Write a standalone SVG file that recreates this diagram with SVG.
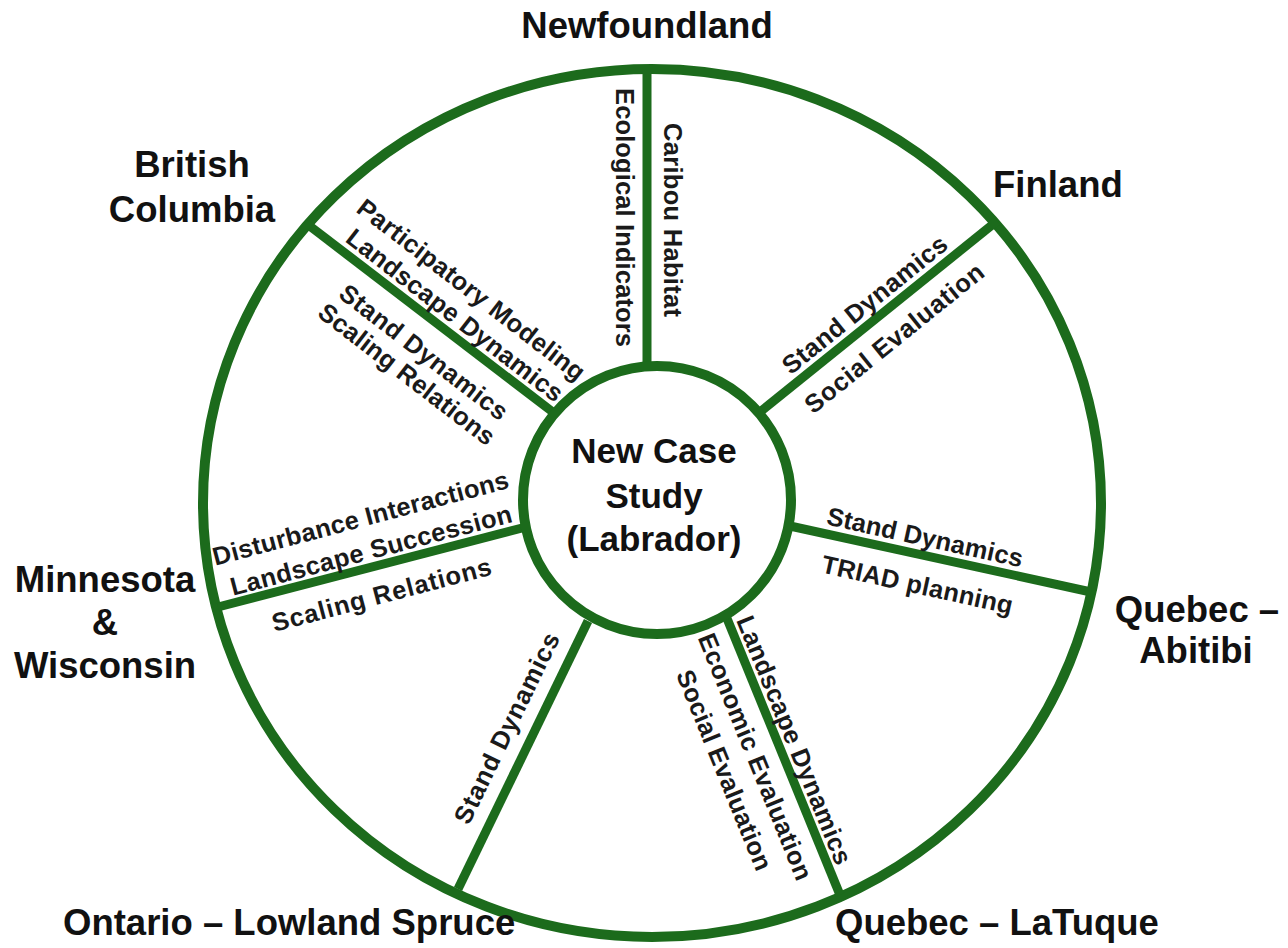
<svg xmlns="http://www.w3.org/2000/svg" width="1288" height="948" viewBox="0 0 1288 948">
<style>
.ring{fill:none;stroke:#1c6b1c;stroke-width:10}
.spoke{stroke:#1c6b1c;stroke-width:9;stroke-linecap:butt}
.region{font-family:"Liberation Sans",Arial,sans-serif;font-weight:bold;font-size:36.5px;fill:#111}
.center{font-family:"Liberation Sans",Arial,sans-serif;font-weight:bold;font-size:35px;fill:#111;text-anchor:middle}
.lbl{font-family:"Liberation Sans",Arial,sans-serif;font-weight:bold;font-size:25.5px;fill:#1a1a1a;text-anchor:middle;dominant-baseline:central}
</style>
<rect width="1288" height="948" fill="#fff"/>
<g id="outer-ring">
<ellipse class="ring" cx="652" cy="503" rx="449" ry="434"/>
</g>
<g id="connectors">
<line class="spoke" x1="647" y1="70" x2="647" y2="367"/>
<line class="spoke" x1="760" y1="412" x2="997" y2="221"/>
<line class="spoke" x1="790" y1="526" x2="1091" y2="592"/>
<line class="spoke" x1="726" y1="616" x2="840" y2="895"/>
<line class="spoke" x1="588" y1="621" x2="458" y2="889"/>
<line class="spoke" x1="526" y1="527" x2="218" y2="607"/>
<line class="spoke" x1="311" y1="227" x2="554" y2="413"/>
<g id="spoke-labels">
<text class="lbl" transform="translate(625,217.5) rotate(90)" textLength="259" lengthAdjust="spacing">Ecological Indicators</text>
<text class="lbl" transform="translate(672.5,220) rotate(90)" textLength="194" lengthAdjust="spacing">Caribou Habitat</text>
<text class="lbl" transform="translate(471.5,289.5) rotate(37.6)" textLength="280" lengthAdjust="spacing">Participatory Modeling</text>
<text class="lbl" transform="translate(455,315) rotate(37.6)" textLength="266" lengthAdjust="spacing">Landscape Dynamics</text>
<text class="lbl" transform="translate(424,352) rotate(37.6)" textLength="205" lengthAdjust="spacing">Stand Dynamics</text>
<text class="lbl" transform="translate(407,374) rotate(37.6)" textLength="215" lengthAdjust="spacing">Scaling Relations</text>
<text class="lbl" transform="translate(864.5,304.5) rotate(-38.9)" textLength="204" lengthAdjust="spacing">Stand Dynamics</text>
<text class="lbl" transform="translate(894,338) rotate(-38.9)" textLength="222" lengthAdjust="spacing">Social Evaluation</text>
<text class="lbl" transform="translate(925,537) rotate(12.4)" textLength="200" lengthAdjust="spacing">Stand Dynamics</text>
<text class="lbl" transform="translate(917.5,584.5) rotate(12.4)" textLength="195" lengthAdjust="spacing">TRIAD planning</text>
<text class="lbl" transform="translate(360.5,518) rotate(-14.8)" textLength="305" lengthAdjust="spacing">Disturbance Interactions</text>
<text class="lbl" transform="translate(371,550) rotate(-14.8)" textLength="290" lengthAdjust="spacing">Landscape Succession</text>
<text class="lbl" transform="translate(381.5,594.5) rotate(-14.8)" textLength="226" lengthAdjust="spacing">Scaling Relations</text>
<text class="lbl" transform="translate(506.5,728) rotate(-64.04)" textLength="209" lengthAdjust="spacing">Stand Dynamics</text>
<text class="lbl" transform="translate(794.5,740) rotate(67.85)" textLength="266" lengthAdjust="spacing">Landscape Dynamics</text>
<text class="lbl" transform="translate(755.5,756.5) rotate(67.85)" textLength="264" lengthAdjust="spacing">Economic Evaluation</text>
<text class="lbl" transform="translate(724.5,770) rotate(67.85)" textLength="214" lengthAdjust="spacing">Social Evaluation</text>
</g>
</g>
<g id="center-node">
<circle cx="657" cy="500" r="134" fill="#fff" stroke="#1c6b1c" stroke-width="10"/>
<text class="center" x="654" y="463">New Case</text>
<text class="center" x="654" y="508">Study</text>
<text class="center" x="654" y="551">(Labrador)</text>
</g>
<g id="newfoundland"><text class="region" x="647" y="38" text-anchor="middle">Newfoundland</text></g>
<g id="british-columbia"><text class="region" x="192" y="177" text-anchor="middle">British</text><text class="region" x="192" y="222" text-anchor="middle">Columbia</text></g>
<g id="finland"><text class="region" x="993" y="197">Finland</text></g>
<g id="quebec-abitibi"><text class="region" x="1197" y="622" text-anchor="middle">Quebec –</text><text class="region" x="1196" y="663" text-anchor="middle">Abitibi</text></g>
<g id="quebec-latuque"><text class="region" x="835" y="935">Quebec – LaTuque</text></g>
<g id="ontario"><text class="region" x="63" y="935">Ontario – Lowland Spruce</text></g>
<g id="minnesota-wisconsin"><text class="region" x="105" y="592" text-anchor="middle">Minnesota</text><text class="region" x="105" y="635" text-anchor="middle">&amp;</text><text class="region" x="105" y="678" text-anchor="middle">Wisconsin</text></g>
</svg>
